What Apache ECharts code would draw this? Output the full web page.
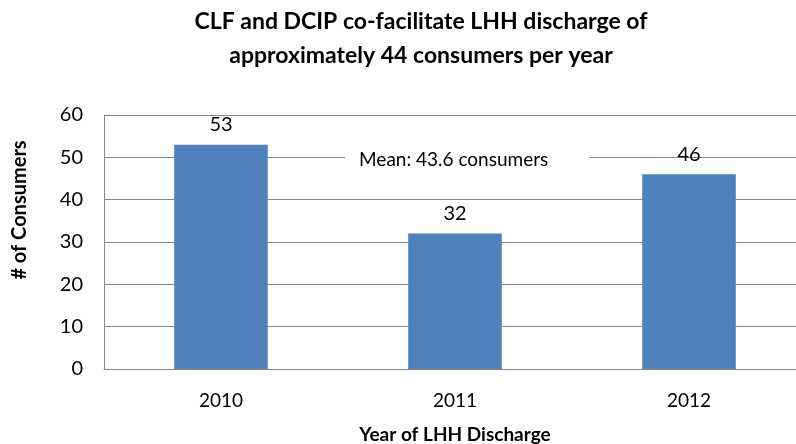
<!DOCTYPE html>
<html>
<head>
<meta charset="utf-8">
<script src="https://cdn.jsdelivr.net/npm/echarts@6/dist/echarts.min.js"></script>
<style>
  html, body { margin: 0; padding: 0; background: #fff; }
  #chart { width: 796px; height: 444px; }
</style>
</head>
<body>
<div id="chart"></div>
<script>
const years = ['2010', '2011', '2012'];
const consumers = [53, 32, 46];
const meanLabel = 'Mean: 43.6 consumers';
const FONT = 'Lato';

const chart = echarts.init(document.getElementById('chart'));

const option = {
  backgroundColor: '#FFFFFF',
  animation: false,
  title: {
    text: 'CLF and DCIP co-facilitate LHH discharge of\napproximately 44 consumers per year',
    left: 416,
    textAlign: 'center',
    top: 0,
    textStyle: { fontFamily: FONT, fontSize: 23, fontWeight: 'bold', color: '#000', lineHeight: 34 },
  },
  grid: { left: 104, right: -10, top: 115, bottom: 75, containLabel: false, outerBoundsMode: 'none' },
  xAxis: {
    type: 'category',
    data: years,
    name: 'Year of LHH Discharge',
    nameLocation: 'middle',
    nameGap: 56,
    nameTextStyle: { fontFamily: FONT, fontSize: 19, fontWeight: 'bold', color: '#000' },
    axisLine: { lineStyle: { color: '#868686' } },
    axisTick: { show: false },
    axisLabel: { fontFamily: FONT, fontSize: 19, color: '#000', margin: 22 },
  },
  yAxis: {
    type: 'value',
    min: 0,
    max: 60,
    interval: 10,
    axisLine: { show: true, lineStyle: { color: '#868686' } },
    axisTick: { show: false },
    axisLabel: { fontFamily: FONT, fontSize: 20, color: '#000', margin: 21 },
    splitLine: { lineStyle: { color: '#868686' } },
  },
  series: [
    {
      type: 'bar',
      data: consumers,
      barWidth: '40%',
      itemStyle: { color: '#4F81BD' },
      label: {
        show: true,
        position: 'top',
        distance: 10,
        fontFamily: FONT,
        fontSize: 20,
        color: '#000',
      },
    },
  ],
  graphic: [
    {
      type: 'rect',
      left: 345,
      top: 149,
      shape: { width: 245, height: 22 },
      style: { fill: '#FFFFFF' },
      z: 10,
    },
    {
      type: 'text',
      left: 359,
      top: 150,
      style: { text: meanLabel, font: '19px ' + FONT, fill: '#000' },
      z: 11,
    },
    {
      type: 'text',
      x: 20,
      y: 210,
      rotation: Math.PI / 2,
      style: {
        text: '# of Consumers',
        font: 'bold 20px ' + FONT,
        fill: '#000',
        align: 'center',
        verticalAlign: 'middle',
      },
    },
  ],
};

chart.setOption(option);
</script>
</body>
</html>
